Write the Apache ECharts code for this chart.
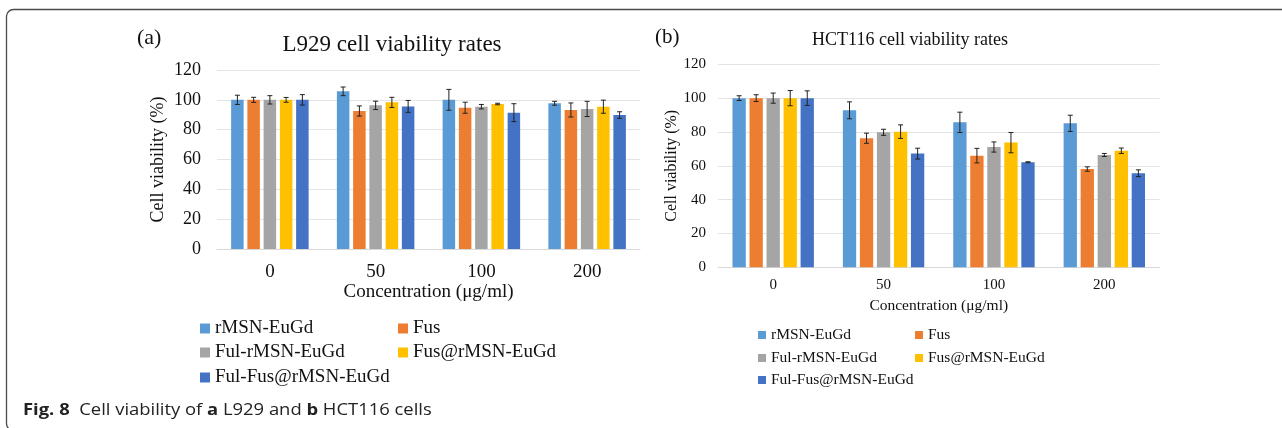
<!DOCTYPE html>
<html>
<head>
<meta charset="utf-8">
<script src="https://cdn.jsdelivr.net/npm/echarts@6/dist/echarts.min.js"></script>
<style>
html,body{margin:0;padding:0;background:#fff;}
#chart{width:1282px;height:428px;}
</style>
</head>
<body>
<div id="chart"></div>
<script>
// ---- data ----
const categories = ['0', '50', '100', '200'];
const seriesNames = ['rMSN-EuGd', 'Fus', 'Ful-rMSN-EuGd', 'Fus@rMSN-EuGd', 'Ful-Fus@rMSN-EuGd'];
const colors = ['#5B9BD5', '#ED7D31', '#A5A5A5', '#FFC000', '#4472C4'];

// L929 (panel a) means and error bars
const l929_rMSN = [100, 105.7, 100, 97.7];
const l929_Fus = [100, 92.5, 94.7, 93.2];
const l929_FulrMSN = [100, 96.3, 95.4, 93.9];
const l929_FusAt = [100, 98.3, 97.2, 95.4];
const l929_FulFus = [100, 95.6, 91.4, 89.8];
const l929_rMSN_err = [3.1, 2.9, 7.0, 1.3];
const l929_Fus_err = [1.7, 3.4, 3.7, 4.7];
const l929_FulrMSN_err = [2.8, 2.8, 1.5, 5.1];
const l929_FusAt_err = [1.6, 3.4, 0.5, 4.4];
const l929_FulFus_err = [3.5, 4.0, 6.0, 2.2];

// HCT116 (panel b) means and error bars
const hct_rMSN = [100, 92.8, 85.7, 85.1];
const hct_Fus = [100, 76.3, 66.0, 58.1];
const hct_FulrMSN = [100, 79.8, 71.1, 66.4];
const hct_FusAt = [100, 80.2, 73.7, 68.9];
const hct_FulFus = [100, 67.2, 62.1, 55.6];
const hct_rMSN_err = [1.4, 5.0, 6.0, 4.8];
const hct_Fus_err = [2.0, 3.0, 4.3, 1.3];
const hct_FulrMSN_err = [3.0, 1.8, 3.0, 0.9];
const hct_FusAt_err = [4.5, 4.0, 6.0, 1.6];
const hct_FulFus_err = [4.3, 3.2, 0.3, 2.0];

const l929Means = [l929_rMSN, l929_Fus, l929_FulrMSN, l929_FusAt, l929_FulFus];
const l929Errs = [l929_rMSN_err, l929_Fus_err, l929_FulrMSN_err, l929_FusAt_err, l929_FulFus_err];
const hctMeans = [hct_rMSN, hct_Fus, hct_FulrMSN, hct_FusAt, hct_FulFus];
const hctErrs = [hct_rMSN_err, hct_Fus_err, hct_FulrMSN_err, hct_FusAt_err, hct_FulFus_err];

// ---- layout ----
const SERIF = '"Liberation Serif", "Times New Roman", serif';
const panels = [
  {means: l929Means, errs: l929Errs, barWidth: 12.5, barGap: 0.3},
  {means: hctMeans, errs: hctErrs, barWidth: 13.3, barGap: 0.28}
];

const chart = echarts.init(document.getElementById('chart'), null, {renderer: 'canvas'});

const series = [];
panels.forEach((p, pi) => {
  p.means.forEach((vals, si) => {
    series.push({
      type: 'bar', name: seriesNames[si], xAxisIndex: pi, yAxisIndex: pi,
      data: vals, barWidth: p.barWidth, barGap: (p.barGap * 100) + '%',
      itemStyle: {color: colors[si]}, z: 2
    });
  });
  p.means.forEach((vals, si) => {
    const offset = (si - 2) * p.barWidth * (1 + p.barGap);
    series.push({
      type: 'custom', name: seriesNames[si] + ' err', xAxisIndex: pi, yAxisIndex: pi, z: 5,
      silent: true,
      data: vals.map((v, ci) => [ci, v, p.errs[si][ci]]),
      encode: {x: 0, y: 1},
      renderItem: function (params, api) {
        const ci = api.value(0), m = api.value(1), e = api.value(2);
        const x = api.coord([ci, m])[0] + offset;
        const yt = api.coord([ci, m + e])[1];
        const yb = api.coord([ci, m - e])[1];
        const st = {stroke: '#222', lineWidth: 1};
        const cw = 2.5;
        return {type: 'group', children: [
          {type: 'line', shape: {x1: x, y1: yt, x2: x, y2: yb}, style: st},
          {type: 'line', shape: {x1: x - cw, y1: yt, x2: x + cw, y2: yt}, style: st},
          {type: 'line', shape: {x1: x - cw, y1: yb, x2: x + cw, y2: yb}, style: st}
        ]};
      }
    });
  });
});

function legendItem(name, left, top, size, font) {
  return {
    data: [name], left: left, top: top, padding: 0, icon: 'rect',
    itemWidth: size, itemHeight: size, selectedMode: false,
    textStyle: {fontFamily: SERIF, fontSize: font, color: '#111'}
  };
}

const option = {
  animation: false,
  grid: [
    {left: 217, right: 642, top: 70, height: 179},
    {left: 718, right: 122.5, top: 64.3, height: 203}
  ],
  xAxis: [
    {type: 'category', gridIndex: 0, data: categories,
     axisLine: {lineStyle: {color: '#d9d9d9'}}, axisTick: {show: false},
     axisLabel: {fontFamily: SERIF, fontSize: 19, color: '#111', margin: 14},
     name: 'Concentration (μg/ml)', nameLocation: 'middle', nameGap: 34,
     nameTextStyle: {fontFamily: SERIF, fontSize: 19, color: '#111'}},
    {type: 'category', gridIndex: 1, data: categories,
     axisLine: {lineStyle: {color: '#d9d9d9'}}, axisTick: {show: false},
     axisLabel: {fontFamily: SERIF, fontSize: 15, color: '#111', margin: 10},
     name: 'Concentration (μg/ml)', nameLocation: 'middle', nameGap: 31,
     nameTextStyle: {fontFamily: SERIF, fontSize: 15.5, color: '#111'}}
  ],
  yAxis: [
    {type: 'value', gridIndex: 0, min: 0, max: 120, interval: 20,
     axisLine: {show: false}, axisTick: {show: false},
     splitLine: {lineStyle: {color: '#e4e4e4'}},
     axisLabel: {fontFamily: SERIF, fontSize: 18, color: '#111', margin: 16},
     name: 'Cell viability (%)', nameLocation: 'middle', nameGap: 50,
     nameTextStyle: {fontFamily: SERIF, fontSize: 18, color: '#111'}},
    {type: 'value', gridIndex: 1, min: 0, max: 120, interval: 20,
     axisLine: {show: false}, axisTick: {show: false},
     splitLine: {lineStyle: {color: '#e4e4e4'}},
     axisLabel: {fontFamily: SERIF, fontSize: 15, color: '#111', margin: 12},
     name: 'Cell viability (%)', nameLocation: 'middle', nameGap: 38,
     nameTextStyle: {fontFamily: SERIF, fontSize: 16, color: '#111'}}
  ],
  legend: [
    legendItem(seriesNames[0], 200, 319, 10, 19),
    legendItem(seriesNames[1], 398, 319, 10, 19),
    legendItem(seriesNames[2], 200, 343, 10, 19),
    legendItem(seriesNames[3], 398, 343, 10, 19),
    legendItem(seriesNames[4], 200, 368, 10, 19),
    legendItem(seriesNames[0], 758, 327, 8, 15.5),
    legendItem(seriesNames[1], 915, 327, 8, 15.5),
    legendItem(seriesNames[2], 758, 350, 8, 15.5),
    legendItem(seriesNames[3], 915, 350, 8, 15.5),
    legendItem(seriesNames[4], 758, 372, 8, 15.5)
  ],
  graphic: [
    {type: 'rect', shape: {x: 6.5, y: 9.5, width: 1300, height: 421, r: 7},
     style: {fill: 'none', stroke: '#4a4a4a', lineWidth: 1.3}, silent: true},
    {type: 'text', x: 137, y: 38, style: {text: '(a)', font: '22px ' + SERIF, fill: '#111', verticalAlign: 'middle'}},
    {type: 'text', x: 392, y: 45, style: {text: 'L929 cell viability rates', font: '23px ' + SERIF, fill: '#111', align: 'center', verticalAlign: 'middle'}},
    {type: 'text', x: 655, y: 37, style: {text: '(b)', font: '21px ' + SERIF, fill: '#111', verticalAlign: 'middle'}},
    {type: 'text', x: 910, y: 40, style: {text: 'HCT116 cell viability rates', font: '18px ' + SERIF, fill: '#111', align: 'center', verticalAlign: 'middle'}},
    {type: 'text', x: 23, y: 410, scaleX: 1.15, style: {
      text: '{b|Fig. 8}  Cell viability of {b|a} L929 and {b|b} HCT116 cells',
      font: '16px "Open Sans", sans-serif', fill: '#222', verticalAlign: 'middle',
      rich: {b: {fontFamily: '"Open Sans", sans-serif', fontSize: 16, fontWeight: 'bold', fill: '#222'}}
    }}
  ],
  series: series
};
chart.setOption(option);
</script>
</body>
</html>
